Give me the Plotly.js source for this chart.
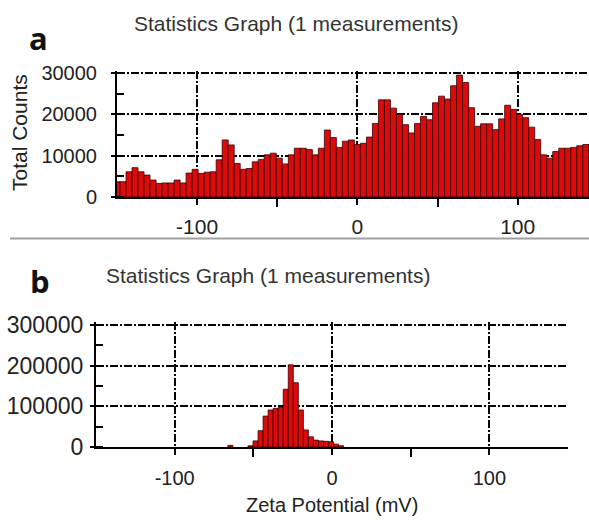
<!DOCTYPE html>
<html>
<head>
<meta charset="utf-8">
<script src="https://cdn.plot.ly/plotly-3.0.1.min.js"></script>
<style>html,body{margin:0;padding:0;background:#fff;}#chart{width:589px;height:522px;}</style>
</head>
<body>
<div id="chart"></div>
<script>
// Panel a: zeta potential bins (mV) and total counts
const aZeta = [-150,-146.25,-142.5,-138.75,-135,-131.25,-127.5,-123.75,-120,-116.25,
  -112.5,-108.75,-105,-101.25,-97.5,-93.75,-90,-86.25,-82.5,-78.75,
  -75,-71.25,-67.5,-63.75,-60,-56.25,-52.5,-48.75,-45,-41.25,
  -37.5,-33.75,-30,-26.25,-22.5,-18.75,-15,-11.25,-7.5,-3.75,
  0,3.75,7.5,11.25,15,18.75,22.5,26.25,30,33.75,
  37.5,41.25,45,48.75,52.5,56.25,60,63.75,67.5,71.25,
  75,78.75,82.5,86.25,90,93.75,97.5,101.25,105,108.75,
  112.5,116.25,120,123.75,127.5,131.25,135,138.75,142.5,146.25];
const aCounts = [3700,3700,6100,7100,6100,5300,4100,3300,3400,3400,
  4100,3400,5800,6700,5700,6000,6100,9000,13800,12600,
  8100,6700,6900,8500,9100,10200,10600,9400,8000,10200,
  11800,11800,11500,10200,11800,16200,14400,12000,13500,13800,
  12700,13000,14500,17800,23500,23500,21500,20000,17500,15500,
  17800,19500,18700,22800,24400,23700,26900,29500,27700,21600,
  17100,17700,17700,16300,18900,22200,21200,20000,19200,16900,
  13900,10200,9400,11000,11800,11800,12000,12400,12700,12700];

// Panel b: zeta potential bins (mV) and total counts
const bZeta = [-64.6,-51.8,-48.6,-45.4,-42.2,-39,-35.8,-32.6,-29.4,-26.2,
  -23,-19.8,-16.6,-13.4,-10.2,-7,-3.8,-0.6,2.6,5.8];
const bCounts = [4000,3000,15000,40000,76000,91000,95000,97000,142000,202000,
  158000,91000,42000,25000,17000,15000,14000,13000,7000,3000];

const aBinWidth = 3.75, bBinWidth = 3.2;
const xTicks = [-100, 0, 100];
const xTickText = ['-100', '0', '100'];

const W = 589, H = 522;
const px = v => v / W, py = v => 1 - v / H;
const FONT = 'Liberation Sans, Arial, sans-serif';
const TXT = '#222';
const barFill = '#dc0a0a', barLine = '#3a0000';
const gridDash = '8px,2px,2px,2px';

const traces = [
  {type:'bar', x:aZeta, y:aCounts, width:aBinWidth, xaxis:'x', yaxis:'y',
   marker:{color:barFill, line:{color:barLine, width:0.8}}, hoverinfo:'skip'},
  {type:'bar', x:bZeta, y:bCounts, width:bBinWidth, xaxis:'x2', yaxis:'y2',
   marker:{color:barFill, line:{color:barLine, width:0.8}}, hoverinfo:'skip'}
];

function xAxis(domain, range, anchor, fs, extra) {
  return Object.assign({
    domain: domain, range: range, anchor: anchor,
    tickmode:'array', tickvals: xTicks, ticktext: xTickText,
    ticks:'outside', ticklen:6, tickwidth:2, tickcolor:'#000',
    showline:true, linecolor:'#000', linewidth:2,
    showgrid:true, gridcolor:'#000', gridwidth:2, griddash:gridDash,
    zeroline:false,
    minor:{tickmode:'array', tickvals:[-50,50], ticks:'outside', ticklen:8, tickwidth:2, tickcolor:'#000', showgrid:false},
    tickfont:{family:FONT, size:fs, color:TXT},
    fixedrange:true
  }, extra || {});
}
function yAxis(domain, range, dtick, anchor, fs, extra) {
  return Object.assign({
    domain: domain, range: range, anchor: anchor,
    tick0:0, dtick:dtick, ticks:'outside', ticklen:4, tickwidth:2, tickcolor:'#000',
    showline:true, linecolor:'#000', linewidth:2,
    showgrid:true, gridcolor:'#000', gridwidth:2, griddash:gridDash,
    zeroline:false, tickformat:'d',
    minor:{tick0:0, dtick:dtick/2, ticks:'inside', ticklen:7, tickwidth:2, tickcolor:'#000', showgrid:false},
    tickfont:{family:FONT, size:fs, color:TXT},
    fixedrange:true
  }, extra || {});
}

// a: 0 at y=197px, 30000 at y=73px; b: 0 at y=447px, 300000 at y=325px.
// Ranges padded ~2.5px so the top gridline is not clipped away.
const aPad = 600, bPad = 6200;
const aTopPx = 73 - 124 * aPad / 30000;
const bTopPx = 325 - 122 * bPad / 300000;

const layout = {
  width: W, height: H,
  margin:{l:0, r:0, t:0, b:0, pad:0},
  paper_bgcolor:'#fff', plot_bgcolor:'rgba(0,0,0,0)',
  showlegend:false, bargap:0,
  font:{family:FONT, color:TXT},
  xaxis: xAxis([px(117), 1], [-150, 144.5], 'y', 21, {ticklabelstandoff:4}),
  yaxis: yAxis([py(197), py(aTopPx)], [0, 30000 + aPad], 10000, 'x', 20, {ticklabelstandoff:10}),
  xaxis2: xAxis([px(96), px(568)], [-150, 150], 'y2', 20, {ticklabelstandoff:6}),
  yaxis2: yAxis([py(447), py(bTopPx)], [0, 300000 + bPad], 100000, 'x2', 23, {ticklabelstandoff:2}),
  shapes:[
    {type:'line', xref:'paper', yref:'paper', x0:px(10), x1:1, y0:py(238.5), y1:py(238.5),
     line:{color:'#a0a0a0', width:2}}
  ],
  annotations:[
    {text:'Statistics Graph (1 measurements)', xref:'paper', yref:'paper', x:px(296), y:py(24),
     xanchor:'center', yanchor:'middle', showarrow:false, font:{family:FONT, size:21, color:'#333'}},
    {text:'Statistics Graph (1 measurements)', xref:'paper', yref:'paper', x:px(268), y:py(275),
     xanchor:'center', yanchor:'middle', showarrow:false, font:{family:FONT, size:21, color:'#333'}},
    {text:'<b>a</b>', xref:'paper', yref:'paper', x:px(38), y:py(38),
     xanchor:'center', yanchor:'middle', showarrow:false, font:{family:'Open Sans, sans-serif', size:31, color:'#111'}},
    {text:'<b>b</b>', xref:'paper', yref:'paper', x:px(40), y:py(281),
     xanchor:'center', yanchor:'middle', showarrow:false, font:{family:'Open Sans, sans-serif', size:31, color:'#111'}},
    {text:'Total Counts', xref:'paper', yref:'paper', x:px(20), y:py(133), textangle:-90,
     xanchor:'center', yanchor:'middle', showarrow:false, font:{family:FONT, size:21, color:TXT}},
    {text:'Zeta Potential (mV)', xref:'paper', yref:'paper', x:px(332), y:py(505),
     xanchor:'center', yanchor:'middle', showarrow:false, font:{family:FONT, size:20, color:TXT}}
  ]
};

Plotly.newPlot('chart', traces, layout, {staticPlot:true, displayModeBar:false});
</script>
</body>
</html>
